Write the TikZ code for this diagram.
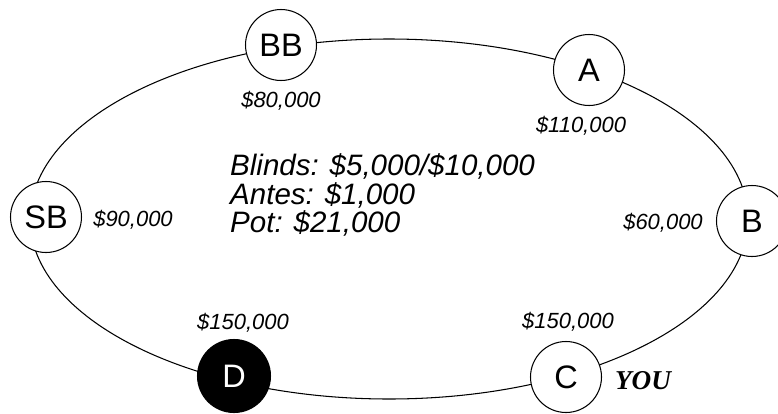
\documentclass[tikz,border=0pt]{standalone}
\usepackage{fontspec}
\setmainfont{Liberation Sans}
\newfontfamily\youfont{Liberation Serif}
\usetikzlibrary{positioning}

\begin{document}
\begin{tikzpicture}[
  x=0.02cm, y=-0.02cm,
  seat/.style={draw, circle, fill=white, line width=0.6pt, minimum size=1.42cm, inner sep=0pt, font=\fontsize{18.5}{20}\selectfont},
  dealer/.style={seat, fill=black, text=white, minimum size=1.46cm},
  stack/.style={font=\itshape\fontsize{12.5}{14}\selectfont},
  potinfo/.style={font=\itshape\fontsize{16.8}{16}\selectfont, align=left, anchor=west}
]
\useasboundingbox (0,0) rectangle (778,413);
% table
\draw[line width=0.6pt] (389,219) ellipse [x radius=359, y radius=180];

% seats
\node[seat] (bb) at (281,45) {BB};
\node[seat] (a) at (589,70) {A};
\node[seat] (sb) at (46,217) {SB};
\node[seat] (b) at (752,221) {B};
\node[dealer] (d) at (234,376) {D};
\node[seat] (c) at (566,377) {C};

% stacks
\node[stack] (bbstack) at (281,101) {\$80,000};
\node[stack] (astack) at (581,126) {\$110,000};
\node[stack] (sbstack) at (133,220) {\$90,000};
\node[stack] (bstack) at (663,223) {\$60,000};
\node[stack] (dstack) at (243,323) {\$150,000};
\node[stack] (cstack) at (568,322) {\$150,000};
\node[font=\youfont\bfseries\itshape\fontsize{15.5}{16}\selectfont] (you) at (643,381) {YOU};

% pot
\node[potinfo] (pot) at (224,195) {Blinds: \$5,000/\$10,000\\Antes: \$1,000\\Pot: \$21,000};
\end{tikzpicture}
\end{document}
